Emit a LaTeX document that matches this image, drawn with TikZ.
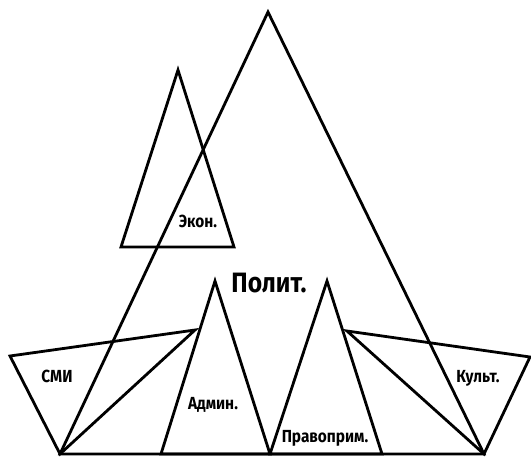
\documentclass[tikz,border=0pt]{standalone}
\usepackage{fontspec}
\setmainfont{Fira Sans}[FakeStretch=0.88]
\begin{document}
\begin{tikzpicture}[x=1pt,y=-1pt,
  tri/.style={draw=black,line width=2.8pt,line join=miter},
  lbl/.style={font=\bfseries\fontsize{17.5}{17.5}\selectfont,anchor=base,inner sep=0pt},
  big/.style={font=\bfseries\fontsize{28}{28}\selectfont,anchor=base,inner sep=0pt}]
\useasboundingbox (0,0) rectangle (531,457);
% key points
\coordinate (A) at (268,12);
\coordinate (L) at (60,454);
\coordinate (R) at (484,454);
\coordinate (E1) at (178,70);
\coordinate (E2) at (121,247);
\coordinate (E3) at (234,247);
\coordinate (S1) at (10,356);
\coordinate (S2) at (195,330);
\coordinate (D1) at (161,454);
\coordinate (D2) at (215,281);
\coordinate (M) at (270,454);
\coordinate (P2) at (327,281);
\coordinate (P3) at (382,454);
\coordinate (K1) at (347,331);
\coordinate (K2) at (530,357);
% triangles
\draw[tri] (A) -- (L) -- (R) -- cycle;
\draw[tri] (E1) -- (E2) -- (E3) -- cycle;
\draw[tri] (S1) -- (S2) -- (L) -- cycle;
\draw[tri] (D1) -- (D2) -- (M) -- cycle;
\draw[tri] (M) -- (P2) -- (P3) -- cycle;
\draw[tri] (K1) -- (K2) -- (R) -- cycle;
% labels
\node[big] (polit) at (269,293) {Полит.};
\node[lbl] (econ) at (198,228) {Экон.};
\node[lbl] (smi) at (57,383) {СМИ};
\node[lbl] (admin) at (213,410) {Админ.};
\node[lbl] (pravo) at (325,443) {Правоприм.};
\node[lbl] (kult) at (478,383) {Культ.};
\end{tikzpicture}
\end{document}
